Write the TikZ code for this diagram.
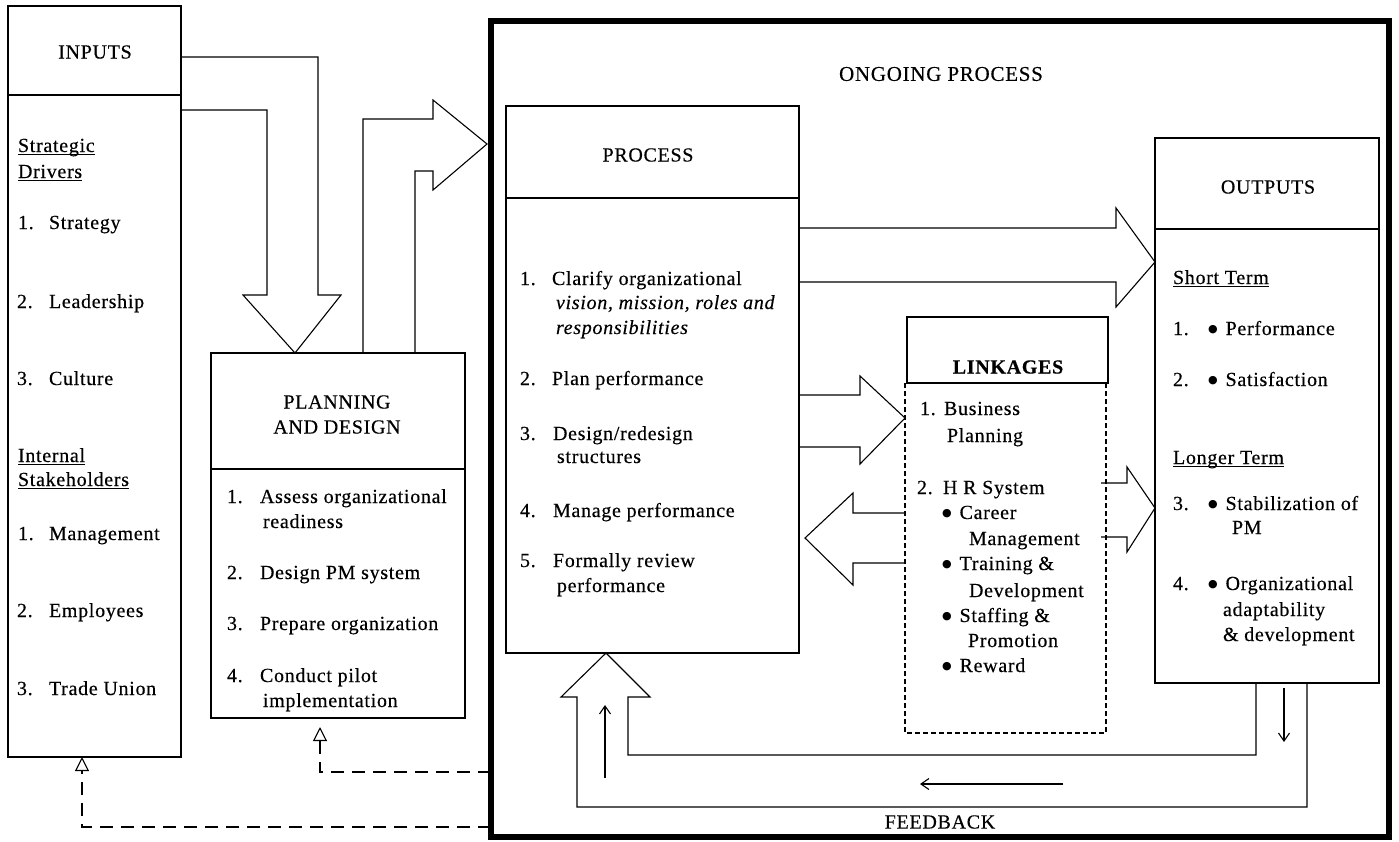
\documentclass[tikz,border=0pt]{standalone}
\usepackage{fontspec}
\setmainfont{Liberation Serif}[LetterSpace=3.5,FakeBold=0.35]
\newfontfamily\dotfont{DejaVu Sans}
\newcommand{\dotmark}{\raisebox{2.5pt}{\dotfont\fontsize{11}{12}\selectfont ●}}
\usetikzlibrary{arrows.meta,calc}

\begin{document}
\begin{tikzpicture}[x=1pt,y=-1pt,
  every node/.style={font=\fontsize{20}{24}\selectfont, inner sep=0pt, outer sep=0pt},
  frame/.style={draw, line width=1.1pt, anchor=north west},
  txt/.style={anchor=base west},
  head/.style={anchor=center},
  block/.style={draw, line width=1.1pt, line join=miter},
  rule/.style={line width=1.1pt},
  uline/.style={line width=0.9pt},
  fback/.style={line width=1.1pt, dash pattern=on 13pt off 8pt,
    -{Triangle[open,length=14pt,width=14pt]}},
  pointer/.style={line width=1.1pt, -{Straight Barb[length=8pt,width=11pt]}},
  linkdash/.style={line width=1.1pt, dash pattern=on 5pt off 3pt}]

\fill[white] (0,0) rectangle (1399,841);
\useasboundingbox (0,0) rectangle (1399,841);

% ---------- the ongoing-process frame ----------
\node[draw, line width=6.5pt, anchor=north west, minimum width=898pt, minimum height=816pt] (ongoing) at (491,21) {};
\node[head, font=\fontsize{21}{25}\selectfont] (ongoingT) at (941,74) {ONGOING PROCESS};

% ---------- inputs ----------
\node[frame, minimum width=173pt, minimum height=751pt] (inputs) at (8,6) {};
\draw[rule] (inputs.west |- 0,95) -- (inputs.east |- 0,95);
\node[head] (inputsT) at (95,52) {INPUTS};
\node[txt] (sd1) at (18,152) {Strategic};
\node[txt] (sd2) at (18,178) {Drivers};
\draw[uline] ([yshift=-2.5pt]sd1.base west) -- ([yshift=-2.5pt]sd1.base east);
\draw[uline] ([yshift=-2.5pt]sd2.base west) -- ([yshift=-2.5pt]sd2.base east);
\node[txt] (in1n) at (18,229) {1.}; \node[txt] (in1) at (49,229) {Strategy};
\node[txt] (in2n) at (17,308) {2.}; \node[txt] (in2) at (49,308) {Leadership};
\node[txt] (in3n) at (17,385) {3.}; \node[txt] (in3) at (49,385) {Culture};
\node[txt] (is1) at (18,462) {Internal};
\node[txt] (is2) at (18,486) {Stakeholders};
\draw[uline] ([yshift=-2.5pt]is1.base west) -- ([yshift=-2.5pt]is1.base east);
\draw[uline] ([yshift=-2.5pt]is2.base west) -- ([yshift=-2.5pt]is2.base east);
\node[txt] (in4n) at (18,540) {1.}; \node[txt] (in4) at (49,540) {Management};
\node[txt] (in5n) at (17,617) {2.}; \node[txt] (in5) at (49,617) {Employees};
\node[txt] (in6n) at (17,695) {3.}; \node[txt] (in6) at (49,695) {Trade Union};

% ---------- planning and design ----------
\node[frame, minimum width=254pt, minimum height=365pt] (plan) at (211,353) {};
\draw[rule] (plan.west |- 0,469) -- (plan.east |- 0,469);
\node[head] (planT1) at (337,402) {PLANNING};
\node[head] (planT2) at (337,427) {AND DESIGN};
\node[txt] (pl1n) at (227,503) {1.}; \node[txt] (pl1) at (260,503) {Assess organizational};
\node[txt] (pl1b) at (263,528) {readiness};
\node[txt] (pl2n) at (227,579) {2.}; \node[txt] (pl2) at (260,579) {Design PM system};
\node[txt] (pl3n) at (227,630) {3.}; \node[txt] (pl3) at (260,630) {Prepare organization};
\node[txt] (pl4n) at (227,682) {4.}; \node[txt] (pl4) at (260,682) {Conduct pilot};
\node[txt] (pl4b) at (263,707) {implementation};

% ---------- process ----------
\node[frame, minimum width=293pt, minimum height=547pt] (proc) at (506,106) {};
\draw[rule] (proc.west |- 0,198) -- (proc.east |- 0,198);
\node[head] (procT) at (648,155) {PROCESS};
\node[txt] (pr1n) at (520,285) {1.}; \node[txt] (pr1) at (552,285) {Clarify organizational};
\node[txt] (pr1b) at (556,309) {\itshape vision, mission, roles and};
\node[txt] (pr1c) at (556,334) {\itshape responsibilities};
\node[txt] (pr2n) at (520,385) {2.}; \node[txt] (pr2) at (552,385) {Plan performance};
\node[txt] (pr3n) at (520,440) {3.}; \node[txt] (pr3) at (553,440) {Design/redesign};
\node[txt] (pr3b) at (557,463) {structures};
\node[txt] (pr4n) at (520,517) {4.}; \node[txt] (pr4) at (553,517) {Manage performance};
\node[txt] (pr5n) at (520,567) {5.}; \node[txt] (pr5) at (553,567) {Formally review};
\node[txt] (pr5b) at (557,592) {performance};

% ---------- linkages ----------
\node[frame, minimum width=201pt, minimum height=66pt] (linkT) at (907,317) {};
\node[head, font=\fontsize{20}{24}\selectfont\bfseries] (linkTT) at (1008,367) {LINKAGES};
\node[anchor=north west, minimum width=201pt, minimum height=350pt] (linkB) at (905,383) {};
\draw[linkdash] (linkB.north west) -- (linkB.south west) -- (linkB.south east) -- (linkB.north east);
\node[txt] (lk1n) at (920,415) {1.}; \node[txt] (lk1) at (944,415) {Business};
\node[txt] (lk1b) at (947,442) {Planning};
\node[txt] (lk2n) at (917,494) {2.}; \node[txt] (lk2) at (943,494) {H R System};
\node[txt] (lka) at (942,519) {\dotmark\hspace{8pt}Career};
\node[txt] (lka2) at (969,545) {Management};
\node[txt] (lkb) at (942,570) {\dotmark\hspace{8pt}Training \&};
\node[txt] (lkb2) at (969,597) {Development};
\node[txt] (lkc) at (942,622) {\dotmark\hspace{8pt}Staffing \&};
\node[txt] (lkc2) at (968,647) {Promotion};
\node[txt] (lkd) at (942,672) {\dotmark\hspace{8pt}Reward};

% ---------- outputs ----------
\node[frame, minimum width=224pt, minimum height=545pt] (outs) at (1155,138) {};
\draw[rule] (outs.west |- 0,229) -- (outs.east |- 0,229);
\node[head] (outsT) at (1268,187) {OUTPUTS};
\node[txt] (st) at (1173,284) {Short Term};
\draw[uline] ([yshift=-2.5pt]st.base west) -- ([yshift=-2.5pt]st.base east);
\node[txt] (ou1n) at (1173,335) {1.}; \node[txt] (ou1) at (1208,335) {\dotmark\hspace{8pt}Performance};
\node[txt] (ou2n) at (1173,386) {2.}; \node[txt] (ou2) at (1208,386) {\dotmark\hspace{8pt}Satisfaction};
\node[txt] (lt) at (1173,464) {Longer Term};
\draw[uline] ([yshift=-2.5pt]lt.base west) -- ([yshift=-2.5pt]lt.base east);
\node[txt] (ou3n) at (1173,510) {3.}; \node[txt] (ou3) at (1208,510) {\dotmark\hspace{8pt}Stabilization of};
\node[txt] (ou3b) at (1232,534) {PM};
\node[txt] (ou4n) at (1173,590) {4.}; \node[txt] (ou4) at (1208,590) {\dotmark\hspace{8pt}Organizational};
\node[txt] (ou4b) at (1223,616) {adaptability};
\node[txt] (ou4c) at (1223,641) {\& development};

% ---------- block arrows ----------
% inputs -> planning and design
\draw[block] (inputs.east |- 0,57) -- (318,57) -- (318,295) -- (341,295)
  -- (295,0 |- plan.north) -- (243,295) -- (267,295) -- (267,110) -- (inputs.east |- 0,110);
% planning and design -> ongoing process
\draw[block] (363,0 |- plan.north) -- (363,119) -- (433,119) -- (433,100)
  -- ($(ongoing.west |- 0,144)+(-4,0)$) -- (433,190) -- (433,171) -- (415,171) -- (415,0 |- plan.north);
% process -> outputs
\draw[block] (proc.east |- 0,228) -- (1116,228) -- (1116,208) -- (outs.west |- 0,262)
  -- (1116,307) -- (1116,282) -- (proc.east |- 0,282);
% process -> linkages
\draw[block] (proc.east |- 0,395) -- (860,395) -- (860,376) -- (linkB.west |- 0,418)
  -- (860,464) -- (860,447) -- (proc.east |- 0,447);
% linkages -> process
\draw[block] (linkB.west |- 0,513) -- (853,513) -- (853,493) -- ($(proc.east |- 0,538)+(6,0)$)
  -- (853,585) -- (853,563) -- (linkB.west |- 0,563);
% linkages -> outputs
\draw[block] ($(linkB.east |- 0,483)+(-5,0)$) -- (1127,483) -- (1127,467) -- (outs.west |- 0,508)
  -- (1127,552) -- (1127,537) -- ($(linkB.east |- 0,537)+(-5,0)$);
% feedback loop from outputs back into process
\draw[block] (1307,0 |- outs.south) -- (1307,807) -- (577,807) -- (577,697) -- (561,697)
  -- (606,0 |- proc.south) -- (650,697) -- (628,697) -- (628,755) -- (1256,755) -- (1256,0 |- outs.south);

% ---------- direction pointers inside the feedback loop ----------
\coordinate (upS) at (605,778); \coordinate (upE) at (605,705);
\coordinate (lfS) at (1063,784); \coordinate (lfE) at (920,784);
\coordinate (dnS) at (1284,688); \coordinate (dnE) at (1284,742);
\draw[pointer] (upS) -- (upE);
\draw[pointer] (lfS) -- (lfE);
\draw[pointer] (dnS) -- (dnE);
\node[head] (fbT) at (940,822) {FEEDBACK};

% ---------- dashed feedback to the earlier stages ----------
\draw[fback] (ongoing.west |- 0,772) -- (320,772) -- ($(320,0 |- plan.south)+(0,9)$);
\draw[fback] (ongoing.west |- 0,827) -- (82,827) -- (82,0 |- inputs.south);

\end{tikzpicture}
\end{document}
